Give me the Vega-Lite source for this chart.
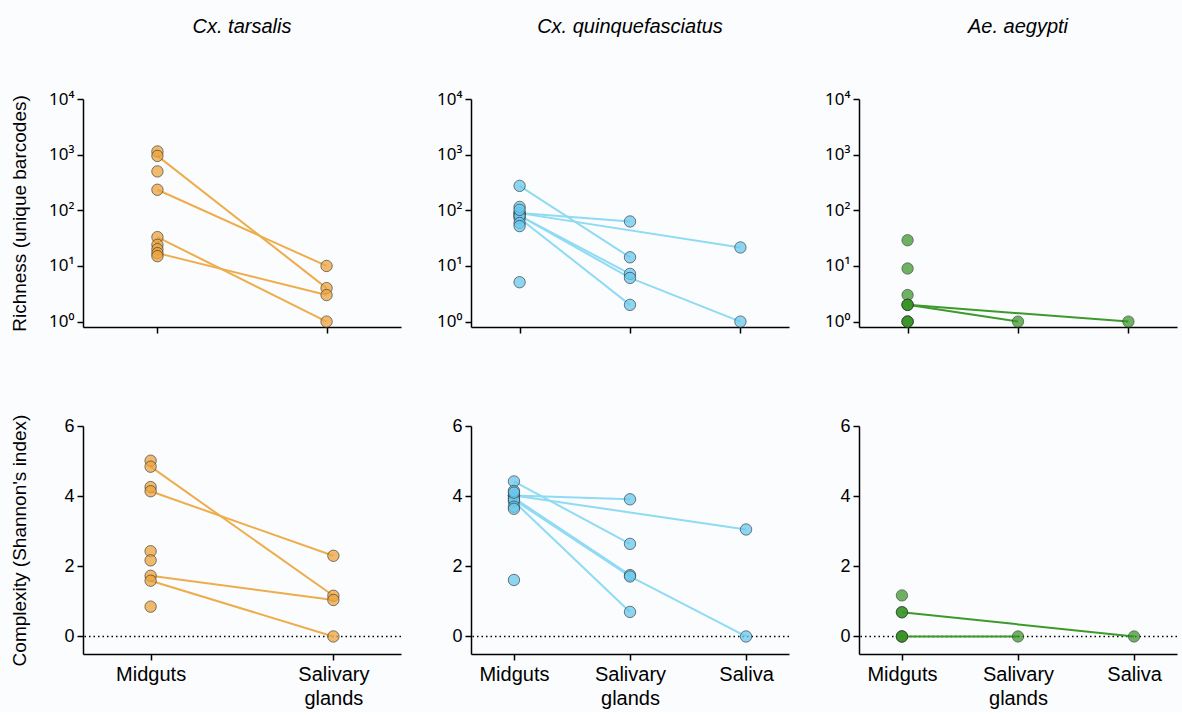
{
  "$schema": "https://vega.github.io/schema/vega-lite/v6.json",
  "background": "#fbfcfe",
  "padding": {"left": 9, "top": 17, "right": 4, "bottom": 4},
  "datasets": {
    "d": [
      {"sp":"T","m":"R","tissue":"Midguts","t":0,"v":1140,"id":null},
      {"sp":"T","m":"R","tissue":"Midguts","t":0,"v":950,"id":"a1"},
      {"sp":"T","m":"R","tissue":"Midguts","t":0,"v":500,"id":null},
      {"sp":"T","m":"R","tissue":"Midguts","t":0,"v":234,"id":"a2"},
      {"sp":"T","m":"R","tissue":"Midguts","t":0,"v":33,"id":"a3"},
      {"sp":"T","m":"R","tissue":"Midguts","t":0,"v":24,"id":null},
      {"sp":"T","m":"R","tissue":"Midguts","t":0,"v":20,"id":null},
      {"sp":"T","m":"R","tissue":"Midguts","t":0,"v":17,"id":"a4"},
      {"sp":"T","m":"R","tissue":"Midguts","t":0,"v":15,"id":null},
      {"sp":"T","m":"R","tissue":"Salivary glands","t":1,"v":4,"id":"a1"},
      {"sp":"T","m":"R","tissue":"Salivary glands","t":1,"v":10,"id":"a2"},
      {"sp":"T","m":"R","tissue":"Salivary glands","t":1,"v":1,"id":"a3"},
      {"sp":"T","m":"R","tissue":"Salivary glands","t":1,"v":3,"id":"a4"},

      {"sp":"T","m":"C","tissue":"Midguts","t":0,"v":5.01,"id":null},
      {"sp":"T","m":"C","tissue":"Midguts","t":0,"v":4.84,"id":"c1"},
      {"sp":"T","m":"C","tissue":"Midguts","t":0,"v":4.26,"id":null},
      {"sp":"T","m":"C","tissue":"Midguts","t":0,"v":4.14,"id":"c2"},
      {"sp":"T","m":"C","tissue":"Midguts","t":0,"v":2.43,"id":null},
      {"sp":"T","m":"C","tissue":"Midguts","t":0,"v":2.17,"id":null},
      {"sp":"T","m":"C","tissue":"Midguts","t":0,"v":1.73,"id":"c3"},
      {"sp":"T","m":"C","tissue":"Midguts","t":0,"v":1.59,"id":"c4"},
      {"sp":"T","m":"C","tissue":"Midguts","t":0,"v":0.85,"id":null},
      {"sp":"T","m":"C","tissue":"Salivary glands","t":1,"v":1.16,"id":"c1"},
      {"sp":"T","m":"C","tissue":"Salivary glands","t":1,"v":2.30,"id":"c2"},
      {"sp":"T","m":"C","tissue":"Salivary glands","t":1,"v":1.04,"id":"c3"},
      {"sp":"T","m":"C","tissue":"Salivary glands","t":1,"v":0,"id":"c4"},

      {"sp":"Q","m":"R","tissue":"Midguts","t":0,"v":275,"id":"b1"},
      {"sp":"Q","m":"R","tissue":"Midguts","t":0,"v":89,"id":"b2"},
      {"sp":"Q","m":"R","tissue":"Midguts","t":0,"v":89,"id":"b3"},
      {"sp":"Q","m":"R","tissue":"Midguts","t":0,"v":80,"id":"b4"},
      {"sp":"Q","m":"R","tissue":"Midguts","t":0,"v":72,"id":"b5"},
      {"sp":"Q","m":"R","tissue":"Midguts","t":0,"v":80,"id":"b6"},
      {"sp":"Q","m":"R","tissue":"Midguts","t":0,"v":115,"id":null},
      {"sp":"Q","m":"R","tissue":"Midguts","t":0,"v":102,"id":null},
      {"sp":"Q","m":"R","tissue":"Midguts","t":0,"v":59,"id":null},
      {"sp":"Q","m":"R","tissue":"Midguts","t":0,"v":52,"id":null},
      {"sp":"Q","m":"R","tissue":"Midguts","t":0,"v":5.1,"id":null},
      {"sp":"Q","m":"R","tissue":"Salivary glands","t":1,"v":14.3,"id":"b1"},
      {"sp":"Q","m":"R","tissue":"Salivary glands","t":1,"v":63,"id":"b2"},
      {"sp":"Q","m":"R","tissue":"Salivary glands","t":1,"v":7.2,"id":"b4"},
      {"sp":"Q","m":"R","tissue":"Salivary glands","t":1,"v":2.0,"id":"b5"},
      {"sp":"Q","m":"R","tissue":"Salivary glands","t":1,"v":6.1,"id":"b6"},
      {"sp":"Q","m":"R","tissue":"Saliva","t":2,"v":21.5,"id":"b3"},
      {"sp":"Q","m":"R","tissue":"Saliva","t":2,"v":1,"id":"b6"},

      {"sp":"Q","m":"C","tissue":"Midguts","t":0,"v":4.42,"id":"q1"},
      {"sp":"Q","m":"C","tissue":"Midguts","t":0,"v":4.02,"id":"q2"},
      {"sp":"Q","m":"C","tissue":"Midguts","t":0,"v":4.02,"id":"q3"},
      {"sp":"Q","m":"C","tissue":"Midguts","t":0,"v":3.95,"id":"q4"},
      {"sp":"Q","m":"C","tissue":"Midguts","t":0,"v":3.85,"id":"q5"},
      {"sp":"Q","m":"C","tissue":"Midguts","t":0,"v":3.9,"id":"q6"},
      {"sp":"Q","m":"C","tissue":"Midguts","t":0,"v":4.15,"id":null},
      {"sp":"Q","m":"C","tissue":"Midguts","t":0,"v":4.1,"id":null},
      {"sp":"Q","m":"C","tissue":"Midguts","t":0,"v":3.7,"id":null},
      {"sp":"Q","m":"C","tissue":"Midguts","t":0,"v":3.64,"id":null},
      {"sp":"Q","m":"C","tissue":"Midguts","t":0,"v":1.61,"id":null},
      {"sp":"Q","m":"C","tissue":"Salivary glands","t":1,"v":2.64,"id":"q1"},
      {"sp":"Q","m":"C","tissue":"Salivary glands","t":1,"v":3.91,"id":"q2"},
      {"sp":"Q","m":"C","tissue":"Salivary glands","t":1,"v":1.75,"id":"q4"},
      {"sp":"Q","m":"C","tissue":"Salivary glands","t":1,"v":0.70,"id":"q5"},
      {"sp":"Q","m":"C","tissue":"Salivary glands","t":1,"v":1.71,"id":"q6"},
      {"sp":"Q","m":"C","tissue":"Saliva","t":2,"v":3.05,"id":"q3"},
      {"sp":"Q","m":"C","tissue":"Saliva","t":2,"v":0,"id":"q6"},

      {"sp":"A","m":"R","tissue":"Midguts","t":0,"v":29,"id":null},
      {"sp":"A","m":"R","tissue":"Midguts","t":0,"v":9,"id":null},
      {"sp":"A","m":"R","tissue":"Midguts","t":0,"v":3,"id":null},
      {"sp":"A","m":"R","tissue":"Midguts","t":0,"v":2,"id":"d1"},
      {"sp":"A","m":"R","tissue":"Midguts","t":0,"v":2,"id":"d2"},
      {"sp":"A","m":"R","tissue":"Midguts","t":0,"v":2,"id":null},
      {"sp":"A","m":"R","tissue":"Midguts","t":0,"v":1,"id":null},
      {"sp":"A","m":"R","tissue":"Midguts","t":0,"v":1,"id":null},
      {"sp":"A","m":"R","tissue":"Midguts","t":0,"v":1,"id":null},
      {"sp":"A","m":"R","tissue":"Salivary glands","t":1,"v":1,"id":"d1"},
      {"sp":"A","m":"R","tissue":"Saliva","t":2,"v":1,"id":"d2"},

      {"sp":"A","m":"C","tissue":"Midguts","t":0,"v":1.17,"id":null},
      {"sp":"A","m":"C","tissue":"Midguts","t":0,"v":0.69,"id":"e1"},
      {"sp":"A","m":"C","tissue":"Midguts","t":0,"v":0.69,"id":null},
      {"sp":"A","m":"C","tissue":"Midguts","t":0,"v":0,"id":"e2"},
      {"sp":"A","m":"C","tissue":"Midguts","t":0,"v":0,"id":null},
      {"sp":"A","m":"C","tissue":"Midguts","t":0,"v":0,"id":null},
      {"sp":"A","m":"C","tissue":"Salivary glands","t":1,"v":0,"id":"e2"},
      {"sp":"A","m":"C","tissue":"Saliva","t":2,"v":0,"id":"e1"}
    ]
  },
  "columns": 3,
  "align": "each",
  "spacing": {"row": 80, "column": 29},
  "concat": [
    {
      "width": 318, "height": 228,
      "title": {"text": "Cx. tarsalis"},
      "data": {"name": "d"},
      "transform": [{"filter": "datum.sp == 'T' && datum.m == 'R'"}],
      "encoding": {
        "x": {"field": "tissue", "type": "nominal", "scale": {"type": "point", "domain": ["Midguts", "Salivary glands"], "padding": 0.44}, "axis": {"labels": false, "title": null}},
        "y": {"field": "v", "type": "quantitative", "scale": {"type": "log", "domain": [0.8, 10000], "nice": false}, "axis": {"values": [1, 10, 100, 1000, 10000], "labelFont": "Noto Sans", "labelFontSize": 17, "labelExpr": "datum.value == 1 ? '10⁰' : datum.value == 10 ? '10¹' : datum.value == 100 ? '10²' : datum.value == 1000 ? '10³' : '10⁴'", "title": "Richness (unique barcodes)"}}
      },
      "layer": [
        {"transform": [{"filter": "datum.id != null"}], "mark": {"type": "line", "color": "#EEAD4C", "strokeWidth": 2}, "encoding": {"detail": {"field": "id"}, "order": {"field": "t"}}},
        {"mark": {"type": "circle", "size": 130, "color": "#ECA43D", "fillOpacity": 0.75, "stroke": "#333333", "strokeWidth": 0.8, "strokeOpacity": 0.8}}
      ]
    },
    {
      "width": 318, "height": 228,
      "title": {"text": "Cx. quinquefasciatus"},
      "data": {"name": "d"},
      "transform": [{"filter": "datum.sp == 'Q' && datum.m == 'R'"}],
      "encoding": {
        "x": {"field": "tissue", "type": "nominal", "scale": {"type": "point", "domain": ["Midguts", "Salivary glands", "Saliva"], "padding": 0.44}, "axis": {"labels": false, "title": null}},
        "y": {"field": "v", "type": "quantitative", "scale": {"type": "log", "domain": [0.8, 10000], "nice": false}, "axis": {"values": [1, 10, 100, 1000, 10000], "labelFont": "Noto Sans", "labelFontSize": 17, "labelExpr": "datum.value == 1 ? '10⁰' : datum.value == 10 ? '10¹' : datum.value == 100 ? '10²' : datum.value == 1000 ? '10³' : '10⁴'", "title": null}}
      },
      "layer": [
        {"transform": [{"filter": "datum.id != null"}], "mark": {"type": "line", "color": "#8FDBF3", "strokeWidth": 2}, "encoding": {"detail": {"field": "id"}, "order": {"field": "t"}}},
        {"mark": {"type": "circle", "size": 130, "color": "#69C8ED", "fillOpacity": 0.75, "stroke": "#333333", "strokeWidth": 0.8, "strokeOpacity": 0.8}}
      ]
    },
    {
      "width": 318, "height": 228,
      "title": {"text": "Ae. aegypti"},
      "data": {"name": "d"},
      "transform": [{"filter": "datum.sp == 'A' && datum.m == 'R'"}],
      "encoding": {
        "x": {"field": "tissue", "type": "nominal", "scale": {"type": "point", "domain": ["Midguts", "Salivary glands", "Saliva"], "padding": 0.44}, "axis": {"labels": false, "title": null}},
        "y": {"field": "v", "type": "quantitative", "scale": {"type": "log", "domain": [0.8, 10000], "nice": false}, "axis": {"values": [1, 10, 100, 1000, 10000], "labelFont": "Noto Sans", "labelFontSize": 17, "labelExpr": "datum.value == 1 ? '10⁰' : datum.value == 10 ? '10¹' : datum.value == 100 ? '10²' : datum.value == 1000 ? '10³' : '10⁴'", "title": null}}
      },
      "layer": [
        {"transform": [{"filter": "datum.id != null"}], "mark": {"type": "line", "color": "#3C9A2B", "strokeWidth": 2}, "encoding": {"detail": {"field": "id"}, "order": {"field": "t"}}},
        {"mark": {"type": "circle", "size": 130, "color": "#389425", "fillOpacity": 0.72, "stroke": "#333333", "strokeWidth": 0.8, "strokeOpacity": 0.7}}
      ]
    },
    {
      "width": 318, "height": 228,
      "data": {"name": "d"},
      "transform": [{"filter": "datum.sp == 'T' && datum.m == 'C'"}],
      "layer": [
        {"transform": [{"aggregate": [{"op": "count", "as": "n"}]}], "mark": {"type": "rule", "color": "black", "strokeWidth": 1.5, "strokeDash": [1.5, 3]}, "encoding": {"y": {"datum": 0, "type": "quantitative", "scale": {"domain": [-0.5, 6], "nice": false, "zero": false}, "axis": {"values": [0, 2, 4, 6], "title": "Complexity (Shannon's index)"}}}},
        {"transform": [{"filter": "datum.id != null"}], "mark": {"type": "line", "color": "#EEAD4C", "strokeWidth": 2}, "encoding": {
          "x": {"field": "tissue", "type": "nominal", "scale": {"type": "point", "domain": ["Midguts", "Salivary glands"], "padding": 0.37}, "axis": {"title": null, "labelAngle": 0, "labelFontSize": 20, "labelLineHeight": 24, "labelBaseline": "top", "labelPadding": 4, "labelExpr": "datum.value == 'Salivary glands' ? ['Salivary', 'glands'] : datum.label"}},
          "y": {"field": "v", "type": "quantitative"},
          "detail": {"field": "id"}, "order": {"field": "t"}}},
        {"mark": {"type": "circle", "size": 130, "color": "#ECA43D", "fillOpacity": 0.75, "stroke": "#333333", "strokeWidth": 0.8, "strokeOpacity": 0.8}, "encoding": {"x": {"field": "tissue", "type": "nominal"}, "y": {"field": "v", "type": "quantitative"}}}
      ]
    },
    {
      "width": 318, "height": 228,
      "data": {"name": "d"},
      "transform": [{"filter": "datum.sp == 'Q' && datum.m == 'C'"}],
      "layer": [
        {"transform": [{"aggregate": [{"op": "count", "as": "n"}]}], "mark": {"type": "rule", "color": "black", "strokeWidth": 1.5, "strokeDash": [1.5, 3]}, "encoding": {"y": {"datum": 0, "type": "quantitative", "scale": {"domain": [-0.5, 6], "nice": false, "zero": false}, "axis": {"values": [0, 2, 4, 6], "title": null}}}},
        {"transform": [{"filter": "datum.id != null"}], "mark": {"type": "line", "color": "#8FDBF3", "strokeWidth": 2}, "encoding": {
          "x": {"field": "tissue", "type": "nominal", "scale": {"type": "point", "domain": ["Midguts", "Salivary glands", "Saliva"], "padding": 0.37}, "axis": {"title": null, "labelAngle": 0, "labelFontSize": 20, "labelLineHeight": 24, "labelBaseline": "top", "labelPadding": 4, "labelExpr": "datum.value == 'Salivary glands' ? ['Salivary', 'glands'] : datum.label"}},
          "y": {"field": "v", "type": "quantitative"},
          "detail": {"field": "id"}, "order": {"field": "t"}}},
        {"mark": {"type": "circle", "size": 130, "color": "#69C8ED", "fillOpacity": 0.75, "stroke": "#333333", "strokeWidth": 0.8, "strokeOpacity": 0.8}, "encoding": {"x": {"field": "tissue", "type": "nominal"}, "y": {"field": "v", "type": "quantitative"}}}
      ]
    },
    {
      "width": 318, "height": 228,
      "data": {"name": "d"},
      "transform": [{"filter": "datum.sp == 'A' && datum.m == 'C'"}],
      "layer": [
        {"transform": [{"aggregate": [{"op": "count", "as": "n"}]}], "mark": {"type": "rule", "color": "black", "strokeWidth": 1.5, "strokeDash": [1.5, 3]}, "encoding": {"y": {"datum": 0, "type": "quantitative", "scale": {"domain": [-0.5, 6], "nice": false, "zero": false}, "axis": {"values": [0, 2, 4, 6], "title": null}}}},
        {"transform": [{"filter": "datum.id != null"}], "mark": {"type": "line", "color": "#3C9A2B", "strokeWidth": 2}, "encoding": {
          "x": {"field": "tissue", "type": "nominal", "scale": {"type": "point", "domain": ["Midguts", "Salivary glands", "Saliva"], "padding": 0.37}, "axis": {"title": null, "labelAngle": 0, "labelFontSize": 20, "labelLineHeight": 24, "labelBaseline": "top", "labelPadding": 4, "labelExpr": "datum.value == 'Salivary glands' ? ['Salivary', 'glands'] : datum.label"}},
          "y": {"field": "v", "type": "quantitative"},
          "detail": {"field": "id"}, "order": {"field": "t"}}},
        {"mark": {"type": "circle", "size": 130, "color": "#389425", "fillOpacity": 0.72, "stroke": "#333333", "strokeWidth": 0.8, "strokeOpacity": 0.7}, "encoding": {"x": {"field": "tissue", "type": "nominal"}, "y": {"field": "v", "type": "quantitative"}}}
      ]
    }
  ],
  "config": {
    "font": "Liberation Sans",
    "view": {"stroke": null},
    "axis": {"domainColor": "black", "domainWidth": 1.5, "tickColor": "black", "tickWidth": 1.5, "tickSize": 6, "labelFontSize": 18, "labelColor": "black", "titleFontSize": 19, "titleColor": "black", "titleFontWeight": "normal", "grid": false},
    "axisY": {"minExtent": 40, "maxExtent": 40, "titlePadding": 14, "labelPadding": 3},
    "title": {"fontSize": 20, "fontStyle": "italic", "fontWeight": "normal", "color": "black", "offset": 53}
  }
}
